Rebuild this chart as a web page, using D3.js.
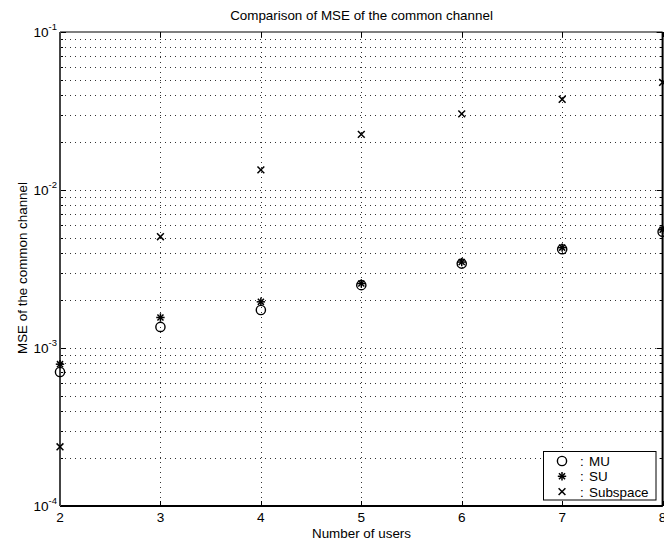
<!DOCTYPE html>
<html>
<head>
<meta charset="utf-8">
<script src="https://cdn.jsdelivr.net/npm/d3@7"></script>
<style>
  body { margin: 0; background: #fff; }
  svg { display: block; }
  text { font-family: "Liberation Sans", Arial, Helvetica, sans-serif; fill: #000; }
</style>
</head>
<body>
<svg id="chart" width="664" height="542"></svg>
<script>
// Number of users on the x axis
const users = [2, 3, 4, 5, 6, 7, 8];
// MSE of the common channel per estimator
const mseMU       = [7.05e-4, 1.36e-3, 1.74e-3, 2.50e-3, 3.42e-3, 4.22e-3, 5.45e-3];
const mseSU       = [7.90e-4, 1.56e-3, 1.96e-3, 2.56e-3, 3.50e-3, 4.32e-3, 5.60e-3];
const mseSubspace = [2.37e-4, 5.06e-3, 1.34e-2, 2.25e-2, 3.03e-2, 3.75e-2, 4.80e-2];
// Axis ticks
const xTicks = [2, 3, 4, 5, 6, 7, 8];
const yDecades = [-4, -3, -2, -1];
const seriesNames = ["MU", "SU", "Subspace"];
const titleText = "Comparison of MSE of the common channel";
const xLabelText = "Number of users";
const yLabelText = "MSE of the common channel";

const svg = d3.select("#chart");
const box = { left: 60, top: 32, right: 662.6, bottom: 506 };

const x = d3.scaleLinear().domain([2, 8]).range([box.left, box.right]);
const y = d3.scaleLog().domain([1e-4, 1e-1]).range([box.bottom, box.top]);

// minor log values k*10^d between the decades
const minorVals = [];
yDecades.slice(0, -1).forEach(d => {
  for (let k = 1; k <= 9; k++) minorVals.push(k * Math.pow(10, d));
});
minorVals.push(Math.pow(10, yDecades[yDecades.length - 1]));

// dotted grid
const grid = svg.append("g").attr("stroke", "#333").attr("stroke-width", 1)
  .attr("stroke-dasharray", "1,4").attr("fill", "none");
grid.selectAll("line.h").data(minorVals.filter(v => v > 1e-4 && v < 1e-1)).join("line")
  .attr("class", "h")
  .attr("x1", box.left).attr("x2", box.right)
  .attr("y1", d => Math.round(y(d)) + 0.5).attr("y2", d => Math.round(y(d)) + 0.5);
grid.selectAll("line.v").data(xTicks.slice(1, -1)).join("line")
  .attr("class", "v")
  .attr("x1", d => Math.round(x(d)) + 0.5).attr("x2", d => Math.round(x(d)) + 0.5)
  .attr("y1", box.top).attr("y2", box.bottom);

// tick marks (inward, on all four sides)
const ticks = svg.append("g").attr("stroke", "#000").attr("stroke-width", 1);
minorVals.forEach(v => {
  const isMajor = Math.abs(Math.log10(v) - Math.round(Math.log10(v))) < 1e-9;
  const len = isMajor ? 6 : 3;
  const yy = Math.round(y(v)) + 0.5;
  ticks.append("line").attr("x1", box.left).attr("x2", box.left + len).attr("y1", yy).attr("y2", yy);
  ticks.append("line").attr("x1", box.right).attr("x2", box.right - len).attr("y1", yy).attr("y2", yy);
});
xTicks.forEach(t => {
  const xx = Math.round(x(t)) + 0.5;
  ticks.append("line").attr("x1", xx).attr("x2", xx).attr("y1", box.bottom).attr("y2", box.bottom - 5);
  ticks.append("line").attr("x1", xx).attr("x2", xx).attr("y1", box.top).attr("y2", box.top + 5);
});

// frame
svg.append("line").attr("x1", box.left).attr("x2", box.right).attr("y1", box.top).attr("y2", box.top)
  .attr("stroke", "#000").attr("stroke-width", 1.2);
svg.append("line").attr("x1", box.left).attr("x2", box.right).attr("y1", box.bottom).attr("y2", box.bottom)
  .attr("stroke", "#000").attr("stroke-width", 2);
svg.append("line").attr("x1", box.left).attr("x2", box.left).attr("y1", box.top).attr("y2", box.bottom)
  .attr("stroke", "#444").attr("stroke-width", 2);
svg.append("line").attr("x1", box.right).attr("x2", box.right).attr("y1", box.top).attr("y2", box.bottom)
  .attr("stroke", "#000").attr("stroke-width", 2);

// y tick labels 10^d
const yLab = svg.append("g").attr("font-size", 13.6);
yDecades.forEach(d => {
  const t = yLab.append("text").attr("x", 57).attr("y", y(Math.pow(10, d)) + 5)
    .attr("text-anchor", "end");
  t.append("tspan").text("10");
  t.append("tspan").attr("dy", -7).attr("font-size", 9.5).text(String(d));
});

// x tick labels
svg.append("g").attr("font-size", 13.6).selectAll("text").data(xTicks).join("text")
  .attr("x", d => x(d)).attr("y", 522).attr("text-anchor", "middle").text(d => d);

// title and axis labels
svg.append("text").attr("x", 361.5).attr("y", 20).attr("text-anchor", "middle")
  .attr("font-size", 13.4).text(titleText);
svg.append("text").attr("x", 361.5).attr("y", 538).attr("text-anchor", "middle")
  .attr("font-size", 13.4).text(xLabelText);
svg.append("text").attr("transform", "translate(27,268) rotate(-90)").attr("text-anchor", "middle")
  .attr("font-size", 13.4).text(yLabelText);

// marker shapes
function drawCircle(g, cx, cy) {
  g.append("circle").attr("cx", cx).attr("cy", cy).attr("r", 4.6)
    .attr("fill", "none").attr("stroke", "#000").attr("stroke-width", 1.4);
}
function drawStar(g, cx, cy) {
  const s = 4.2, d = s * 0.72;
  const p = g.append("g").attr("stroke", "#000").attr("stroke-width", 1.5);
  p.append("line").attr("x1", cx - s).attr("x2", cx + s).attr("y1", cy).attr("y2", cy);
  p.append("line").attr("x1", cx).attr("x2", cx).attr("y1", cy - s).attr("y2", cy + s);
  p.append("line").attr("x1", cx - d).attr("x2", cx + d).attr("y1", cy - d).attr("y2", cy + d);
  p.append("line").attr("x1", cx - d).attr("x2", cx + d).attr("y1", cy + d).attr("y2", cy - d);
}
function drawCross(g, cx, cy) {
  const s = 3.4;
  const p = g.append("g").attr("stroke", "#000").attr("stroke-width", 1.5);
  p.append("line").attr("x1", cx - s).attr("x2", cx + s).attr("y1", cy - s).attr("y2", cy + s);
  p.append("line").attr("x1", cx - s).attr("x2", cx + s).attr("y1", cy + s).attr("y2", cy - s);
}
const markers = [drawCircle, drawStar, drawCross];
const seriesValues = [mseMU, mseSU, mseSubspace];

const pts = svg.append("g");
seriesValues.forEach((vals, i) => {
  vals.forEach((v, j) => markers[i](pts, x(users[j]), y(v)));
});

// legend
const leg = svg.append("g");
leg.append("rect").attr("x", 543.5).attr("y", 451.5).attr("width", 112.5).attr("height", 48.5)
  .attr("fill", "#fff").attr("stroke", "#000").attr("stroke-width", 1);
seriesNames.forEach((name, i) => {
  const ry = 461 + i * 15.3;
  markers[i](leg, 562, ry);
  const t = leg.append("text").attr("y", ry + 5).attr("font-size", 13.4);
  t.append("tspan").attr("x", 580).text(":");
  t.append("tspan").attr("x", 589).text(name);
});
</script>
</body>
</html>
